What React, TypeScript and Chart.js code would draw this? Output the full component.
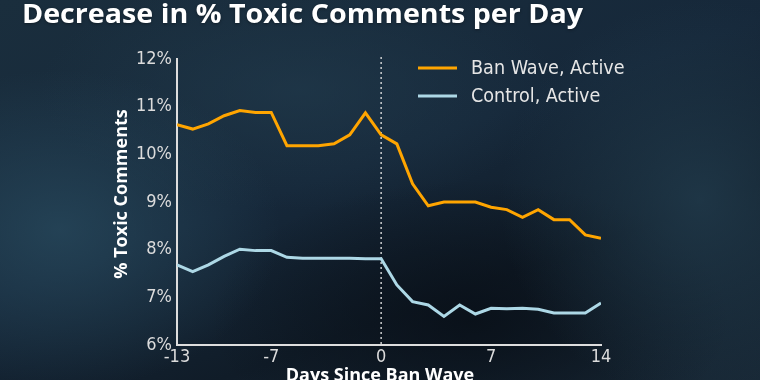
import React, { useEffect, useRef } from "react";
import { Chart, registerables } from "chart.js";

Chart.register(...registerables);

const chartTitle = "Decrease in % Toxic Comments per Day";
const xAxisTitle = "Days Since Ban Wave";
const yAxisTitle = "% Toxic Comments";

const days = [-13, -12, -11, -10, -9, -8, -7, -6, -5, -4, -3, -2, -1, 0, 1, 2, 3, 4, 5, 6, 7, 8, 9, 10, 11, 12, 13, 14];
const banWaveActive = [10.62, 10.53, 10.64, 10.81, 10.92, 10.88, 10.88, 10.18, 10.18, 10.18, 10.22, 10.41, 10.87, 10.41, 10.22, 9.38, 8.92, 9.0, 9.0, 9.0, 8.89, 8.84, 8.68, 8.84, 8.63, 8.63, 8.31, 8.24];
const controlActive = [7.68, 7.54, 7.68, 7.86, 8.01, 7.98, 7.98, 7.84, 7.82, 7.82, 7.82, 7.82, 7.81, 7.81, 7.26, 6.91, 6.84, 6.6, 6.84, 6.65, 6.77, 6.76, 6.77, 6.75, 6.67, 6.67, 6.67, 6.88];
const seriesLabels = ["Ban Wave, Active", "Control, Active"];
const seriesColors = ["#FFA500", "#ADD8E6"];
const xTicks = [-13, -7, 0, 7, 14];
const yMin = 6;
const yMax = 12;
const banWaveDay = 0;

const TICK_FONT = "'DejaVu Sans Condensed', 'DejaVu Sans', sans-serif";
const BOLD_FONT = "'Open Sans', 'Lato', sans-serif";

const decorPlugin = {
  id: "decor",
  beforeDatasetsDraw(chart: any) {
    const { ctx, chartArea, scales } = chart;
    const x = scales.x.getPixelForValue(banWaveDay);
    ctx.save();
    ctx.strokeStyle = "rgba(225,225,225,0.9)";
    ctx.lineWidth = 1.5;
    ctx.setLineDash([2, 3]);
    ctx.beginPath();
    ctx.moveTo(x, chartArea.top - 2);
    ctx.lineTo(x, chartArea.bottom);
    ctx.stroke();
    ctx.restore();
  },
  afterDraw(chart: any) {
    const { ctx, chartArea } = chart;
    ctx.save();
    // title, stretched to the reference width
    ctx.fillStyle = "#ffffff";
    ctx.font = `bold 27px ${BOLD_FONT}`;
    ctx.textAlign = "left";
    ctx.textBaseline = "alphabetic";
    const w = ctx.measureText(chartTitle).width;
    const sx = 561 / w;
    ctx.save();
    ctx.translate(22, 23);
    ctx.scale(sx, 1);
    ctx.shadowColor = "rgba(0,0,0,0.35)";
    ctx.shadowBlur = 3;
    ctx.shadowOffsetY = 1;
    ctx.fillText(chartTitle, 0, 0);
    ctx.restore();
    // axis titles
    ctx.fillStyle = "#ffffff";
    ctx.font = `bold 18px ${BOLD_FONT}`;
    ctx.textAlign = "center";
    ctx.textBaseline = "middle";
    ctx.fillText(xAxisTitle, (chartArea.left + chartArea.right) / 2 - 9, 376);
    ctx.save();
    ctx.translate(122, (chartArea.top + chartArea.bottom) / 2 - 8);
    ctx.rotate(-Math.PI / 2);
    ctx.fillText(yAxisTitle, 0, 0);
    ctx.restore();
    // legend
    ctx.font = `19.6px ${TICK_FONT}`;
    ctx.textAlign = "left";
    ctx.textBaseline = "middle";
    chart.data.datasets.forEach((ds: any, i: number) => {
      const y = 68 + i * 28;
      ctx.strokeStyle = ds.borderColor;
      ctx.lineWidth = 3;
      ctx.beginPath();
      ctx.moveTo(418, y);
      ctx.lineTo(457, y);
      ctx.stroke();
      ctx.fillStyle = "#e6e6e6";
      ctx.fillText(ds.label, 471, y + 1);
    });
    ctx.restore();
  },
};

export default function App() {
  const ref = useRef<HTMLCanvasElement | null>(null);
  useEffect(() => {
    if (!ref.current) return;
    const toPts = (vals: number[]) => days.map((d, i) => ({ x: d, y: vals[i] }));
    const chart = new Chart(ref.current, {
      type: "line",
      data: {
        datasets: [banWaveActive, controlActive].map((vals, i) => ({
          label: seriesLabels[i],
          data: toPts(vals),
          borderColor: seriesColors[i],
          backgroundColor: seriesColors[i],
          borderWidth: 3,
          pointRadius: 0,
          tension: 0,
          fill: false,
        })),
      },
      options: {
        responsive: false,
        animation: false,
        layout: { padding: { top: 59, right: 159, left: 0, bottom: 0 } },
        plugins: { legend: { display: false }, title: { display: false }, tooltip: { enabled: false } },
        scales: {
          x: {
            type: "linear",
            min: days[0],
            max: days[days.length - 1],
            afterBuildTicks: (s: any) => {
              s.ticks = xTicks.map((v) => ({ value: v }));
            },
            afterFit: (s: any) => {
              s.height = 35;
            },
            grid: { display: false, drawTicks: false },
            border: { display: true, color: "#dedede", width: 2 },
            ticks: {
              color: "#dcdcdc",
              font: { family: TICK_FONT, size: 18 },
              padding: 2,
              maxRotation: 0,
              autoSkip: false,
              callback: (v: any) => String(v),
            },
          },
          y: {
            min: yMin,
            max: yMax,
            afterFit: (s: any) => {
              s.width = 177;
            },
            grid: { display: false, drawTicks: false },
            border: { display: true, color: "#dedede", width: 2 },
            ticks: {
              stepSize: 1,
              color: "#dcdcdc",
              font: { family: TICK_FONT, size: 18 },
              padding: 5,
              callback: (v: any) => `${v}%`,
            },
          },
        },
      },
      plugins: [decorPlugin],
    } as any);
    return () => chart.destroy();
  }, []);

  return (
    <div
      style={{
        position: "fixed",
        left: 0,
        top: 0,
        width: 760,
        height: 380,
        overflow: "hidden",
        background: [
          "radial-gradient(ellipse 220px 160px at 60px 230px, rgba(40,74,94,0.75), rgba(40,74,94,0) 100%)",
          "radial-gradient(ellipse 200px 200px at 700px 200px, rgba(36,64,82,0.7), rgba(36,64,82,0) 100%)",
          "radial-gradient(ellipse 260px 120px at 300px 90px, rgba(34,60,78,0.6), rgba(34,60,78,0) 100%)",
          "radial-gradient(ellipse 260px 140px at 470px 320px, rgba(8,14,22,0.8), rgba(8,14,22,0) 100%)",
          "linear-gradient(160deg, #1a2e3d 0%, #16283a 45%, #101c28 70%, #182836 100%)",
        ].join(", "),
      }}
    >
      <canvas ref={ref} width={760} height={380} style={{ display: "block" }} />
    </div>
  );
}
